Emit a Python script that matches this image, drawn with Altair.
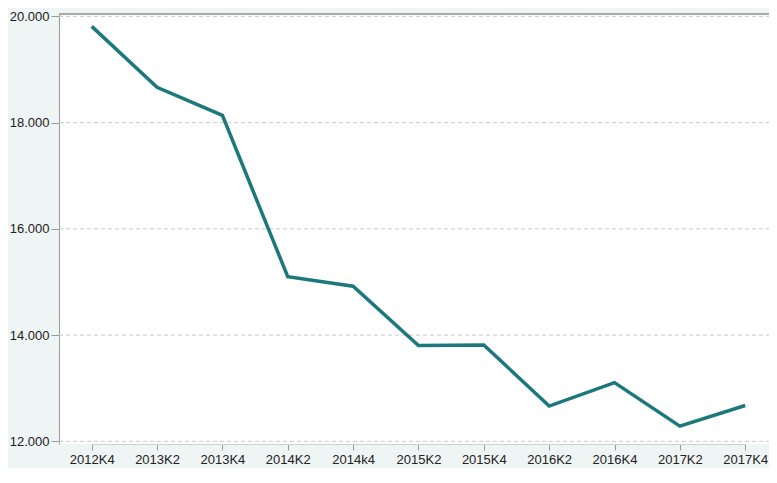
import altair as alt
import pandas as pd

quarters = ["2012K4", "2013K2", "2013K4", "2014K2", "2014k4", "2015K2",
            "2015K4", "2016K2", "2016K4", "2017K2", "2017K4"]
values = [19812, 18664, 18138, 15100, 14920, 13803,
          13815, 12664, 13105, 12287, 12674]
y_ticks = [12000, 14000, 16000, 18000, 20000]

df = pd.DataFrame({"kvartal": quarters, "verdi": values})
grid_df = pd.DataFrame({"verdi": y_ticks})

W, H = 710, 430
y_scale = alt.Scale(domain=[11950, 20045], nice=False, zero=False)

grid = alt.Chart(grid_df).mark_rule(color="#c8c8c8", strokeWidth=1, strokeDash=[4, 3]).encode(
    y=alt.Y("verdi:Q", scale=y_scale, title=None),
    x=alt.value(0), x2=alt.value(W),
)

line = alt.Chart(df).mark_line(color="#1b787c", strokeWidth=3.5, strokeJoin="miter").encode(
    x=alt.X("kvartal:N", sort=quarters, title=None,
            scale=alt.Scale(type="point", range=[32.7, 686.2], padding=0),
            axis=alt.Axis(labelAngle=0, labelFontSize=13, labelColor="#222",
                          labelFont="Liberation Sans", tickSize=6, tickColor="#999",
                          domainColor="#d0d0d0", labelPadding=3, grid=False)),
    y=alt.Y("verdi:Q", title=None, scale=y_scale,
            axis=alt.Axis(values=y_ticks, labelFontSize=13, labelColor="#222",
                          labelFont="Liberation Sans", tickSize=8, tickColor="#999",
                          domainColor="#999", labelPadding=2,
                          labelExpr="replace(format(datum.value, ',d'), ',', '.')",
                          grid=False)),
)

border = alt.Chart(df).mark_rule(color="#a8a8a8", strokeWidth=1).encode(
    x=alt.value(0), x2=alt.value(W), y=alt.value(0)
)

chart = alt.layer(grid, line, border).properties(
    width=W, height=H,
    background="#eff4f4",
    padding={"left": 51, "top": 6, "right": 0, "bottom": 24},
    autosize=alt.AutoSizeParams(type="none"),
).configure_view(stroke=None, fill="white")

chart.save("out.html", embed_options={"renderer": "svg", "actions": False})
